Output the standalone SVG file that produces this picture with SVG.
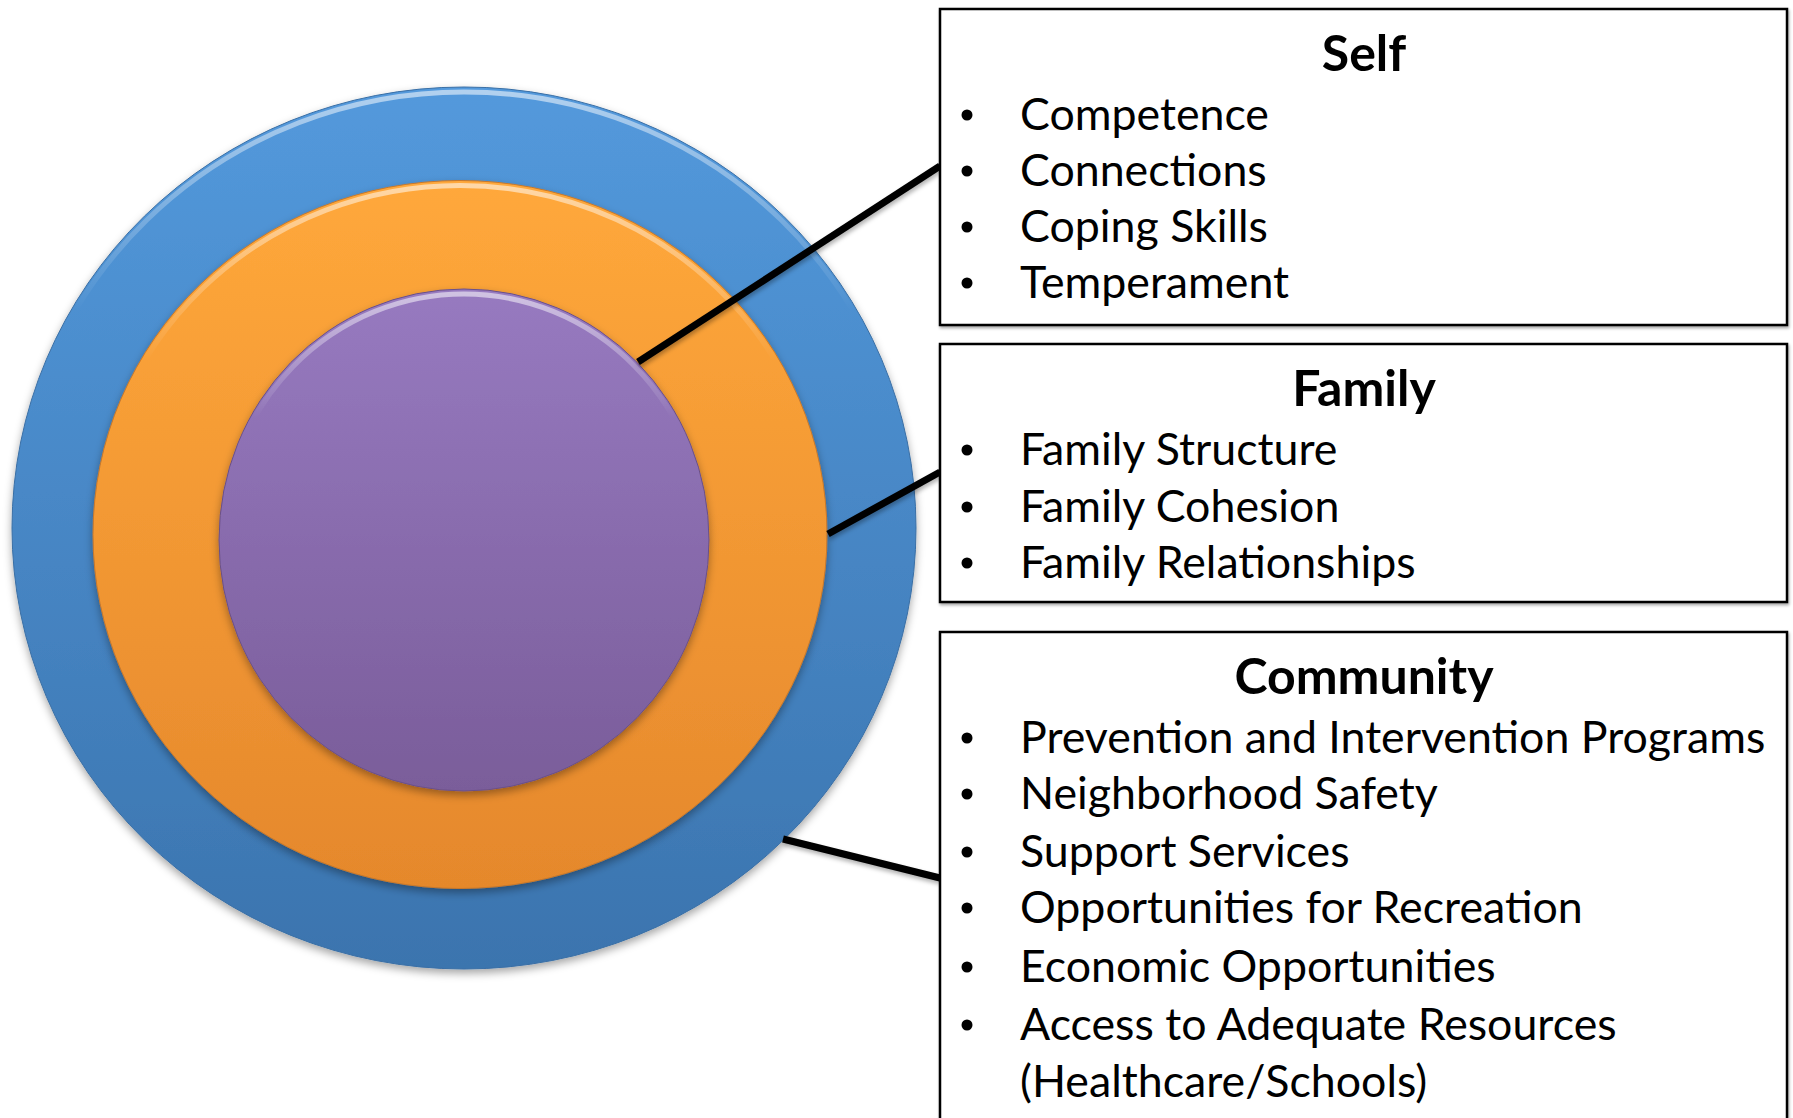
<svg xmlns="http://www.w3.org/2000/svg" width="1793" height="1118" viewBox="0 0 1793 1118">
  <style>
    .box { fill: #ffffff; stroke: #000000; stroke-width: 2.5; filter: url(#boxShadow); }
    .title { font-family: Lato, "Open Sans", sans-serif; font-weight: bold; font-size: 50px; fill: #000; text-anchor: middle; }
    .item { font-family: Lato, "Open Sans", sans-serif; font-size: 44.7px; fill: #000; }
    .bullet { fill: #000; }
    .conn { stroke: #000; stroke-width: 7; stroke-linecap: butt; fill: none; filter: url(#lineShadow); }
  </style>
  <defs>
    <linearGradient id="gBlue" x1="0" y1="0" x2="0" y2="1">
      <stop offset="0" stop-color="#5399dc"/>
      <stop offset="1" stop-color="#3b74ae"/>
    </linearGradient>
    <linearGradient id="gOrange" x1="0" y1="0" x2="0" y2="1">
      <stop offset="0" stop-color="#ffa83b"/>
      <stop offset="1" stop-color="#e5882c"/>
    </linearGradient>
    <linearGradient id="gPurple" x1="0" y1="0" x2="0" y2="1">
      <stop offset="0" stop-color="#977ac0"/>
      <stop offset="1" stop-color="#7a5d9a"/>
    </linearGradient>
    <linearGradient id="rimLight" x1="0" y1="0" x2="0" y2="1">
      <stop offset="0" stop-color="#ffffff" stop-opacity="0.55"/>
      <stop offset="0.25" stop-color="#ffffff" stop-opacity="0"/>
      <stop offset="1" stop-color="#ffffff" stop-opacity="0"/>
    </linearGradient>
    <filter id="discShadow" x="-10%" y="-10%" width="120%" height="125%">
      <feDropShadow dx="0" dy="4" stdDeviation="4" flood-color="#000" flood-opacity="0.35"/>
    </filter>
    <filter id="lineShadow" x="-10%" y="-30%" width="120%" height="160%">
      <feDropShadow dx="1" dy="3" stdDeviation="2" flood-color="#000" flood-opacity="0.3"/>
    </filter>
    <filter id="boxShadow" x="-5%" y="-5%" width="110%" height="110%">
      <feDropShadow dx="1" dy="2" stdDeviation="1.5" flood-color="#000" flood-opacity="0.35"/>
    </filter>
  </defs>

  <!-- concentric discs -->
  <g id="community-ring">
    <ellipse cx="464" cy="528" rx="452" ry="441" fill="url(#gBlue)" stroke="#3a6fa5" stroke-width="1" filter="url(#discShadow)"/>
    <ellipse cx="464" cy="530" rx="449" ry="438" fill="none" stroke="url(#rimLight)" stroke-width="5"/>
  </g>
  <g id="family-ring">
    <ellipse cx="460" cy="534.5" rx="367" ry="354" fill="url(#gOrange)" stroke="#c8782a" stroke-width="1" filter="url(#discShadow)"/>
    <ellipse cx="460" cy="536.5" rx="364" ry="351" fill="none" stroke="url(#rimLight)" stroke-width="5"/>
  </g>
  <g id="self-core">
    <ellipse cx="464" cy="540" rx="245" ry="251" fill="url(#gPurple)" stroke="#6a5088" stroke-width="1" filter="url(#discShadow)"/>
    <ellipse cx="464" cy="542" rx="242" ry="248" fill="none" stroke="url(#rimLight)" stroke-width="5"/>
  </g>

  <!-- connectors -->
  <g id="connectors">
    <line class="conn" x1="638" y1="362" x2="940" y2="166"/>
    <line class="conn" x1="828" y1="534" x2="940" y2="472"/>
    <line class="conn" x1="783" y1="839" x2="940" y2="878"/>
  </g>

  <!-- Self box -->
  <g id="self-box">
    <rect class="box" x="940" y="9" width="847" height="316"/>
    <text class="title" x="1364" y="71">Self</text>
    <circle class="bullet" cx="967" cy="115" r="5.5"/>
    <text class="item" x="1020" y="130">Competence</text>
    <circle class="bullet" cx="967" cy="171" r="5.5"/>
    <text class="item" x="1020" y="186">Connections</text>
    <circle class="bullet" cx="967" cy="227" r="5.5"/>
    <text class="item" x="1020" y="242">Coping Skills</text>
    <circle class="bullet" cx="967" cy="283" r="5.5"/>
    <text class="item" x="1020" y="298">Temperament</text>
  </g>

  <!-- Family box -->
  <g id="family-box">
    <rect class="box" x="940" y="344" width="847" height="258"/>
    <text class="title" x="1364" y="406">Family</text>
    <circle class="bullet" cx="967" cy="450" r="5.5"/>
    <text class="item" x="1020" y="465">Family Structure</text>
    <circle class="bullet" cx="967" cy="507" r="5.5"/>
    <text class="item" x="1020" y="522">Family Cohesion</text>
    <circle class="bullet" cx="967" cy="563" r="5.5"/>
    <text class="item" x="1020" y="578">Family Relationships</text>
  </g>

  <!-- Community box (runs past the lower edge) -->
  <g id="community-box">
    <rect class="box" x="940" y="632" width="847" height="520"/>
    <text class="title" x="1364" y="694">Community</text>
    <circle class="bullet" cx="967" cy="738" r="5.5"/>
    <text class="item" x="1020" y="753">Prevention and Intervention Programs</text>
    <circle class="bullet" cx="967" cy="794" r="5.5"/>
    <text class="item" x="1020" y="809">Neighborhood Safety</text>
    <circle class="bullet" cx="967" cy="852" r="5.5"/>
    <text class="item" x="1020" y="867">Support Services</text>
    <circle class="bullet" cx="967" cy="908" r="5.5"/>
    <text class="item" x="1020" y="923">Opportunities for Recreation</text>
    <circle class="bullet" cx="967" cy="967" r="5.5"/>
    <text class="item" x="1020" y="982">Economic Opportunities</text>
    <circle class="bullet" cx="967" cy="1025" r="5.5"/>
    <text class="item" x="1020" y="1040">Access to Adequate Resources</text>
    <text class="item" x="1020" y="1097">(Healthcare/Schools)</text>
  </g>
</svg>
